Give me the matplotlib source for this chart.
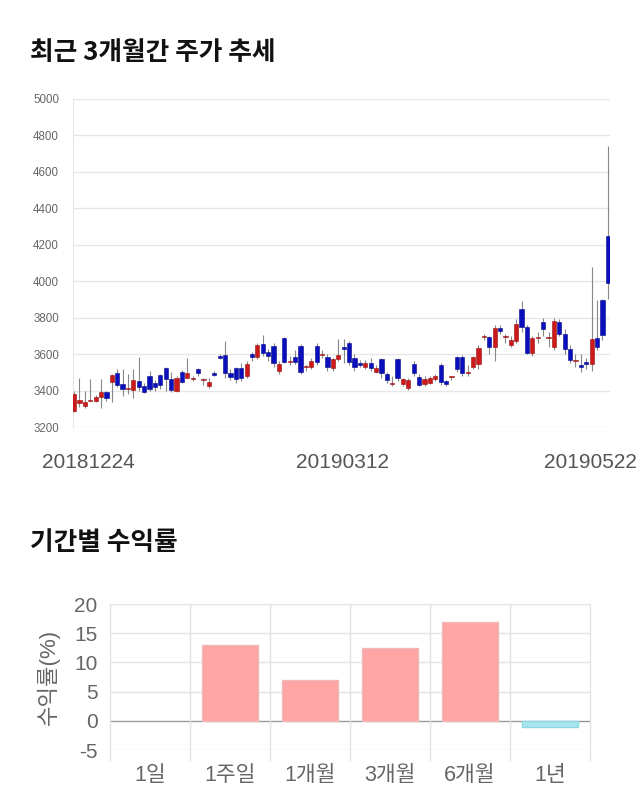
import matplotlib
matplotlib.use("Agg")
import matplotlib.pyplot as plt
import numpy as np

plt.rcParams['font.family'] = ['Liberation Sans', 'Noto Sans CJK KR', 'DejaVu Sans']

# ---------------- data ----------------
opens = [3290,3331,3315,3343,3343,3364,3392,3447,3497,3436,3408,3403,3452,3425,3480,3441,3485,3524,3463,3397,
         3502,3469,3463,3518,3458,3425,3497,3590,3595,3497,3524,3524,3480,3601,3584,3656,3612,3645,3508,3689,
         3557,3584,3645,3529,3529,3645,3595,3584,3524,3573,3639,3661,3579,3552,3529,3552,3502,3573,3491,3436,
         3573,3436,3414,3546,3474,3436,3441,3463,3541,3452,3474,3584,3584,3497,3529,3546,3694,3694,3639,3743,
         3694,3650,3672,3847,3749,3606,3689,3776,3689,3639,3776,3711,3628,3563,3541,3557,3546,3689,3897,4248]
closes = [3380,3348,3337,3343,3364,3392,3359,3485,3430,3408,3408,3458,3419,3392,3408,3419,3430,3463,3403,3469,
          3447,3497,3463,3497,3458,3447,3485,3579,3497,3474,3463,3469,3546,3584,3650,3606,3590,3552,3546,3557,
          3557,3557,3502,3529,3563,3557,3595,3529,3573,3595,3628,3557,3529,3541,3552,3524,3524,3497,3458,3436,
          3469,3463,3458,3497,3430,3463,3469,3480,3447,3436,3474,3518,3497,3497,3584,3634,3694,3639,3743,3727,
          3694,3678,3765,3749,3606,3689,3689,3738,3689,3782,3711,3628,3568,3563,3529,3546,3683,3639,3705,3990]
highs = [3400,3470,3400,3465,3375,3465,3400,3490,3520,3520,3490,3520,3585,3440,3505,3460,3490,3530,3500,3480,
         3515,3580,3480,3525,3470,3470,3510,3600,3672,3520,3530,3550,3560,3610,3660,3705,3630,3660,3560,3695,
         3590,3620,3655,3540,3580,3660,3620,3600,3580,3683,3683,3670,3600,3570,3565,3580,3540,3580,3500,3480,
         3580,3470,3470,3560,3490,3480,3480,3490,3550,3460,3480,3590,3595,3540,3590,3650,3710,3700,3760,3760,
         3710,3700,3790,3890,3760,3700,3720,3800,3720,3800,3790,3740,3650,3600,3600,3580,4080,3897,3905,4740]
lows = [3280,3310,3305,3340,3335,3305,3340,3337,3420,3370,3380,3360,3400,3385,3400,3400,3410,3400,3390,3390,
        3440,3470,3450,3480,3430,3415,3480,3575,3470,3460,3440,3450,3470,3560,3575,3590,3560,3530,3490,3550,
        3540,3545,3490,3510,3520,3540,3580,3510,3510,3560,3550,3540,3510,3530,3520,3510,3495,3470,3440,3425,
        3450,3425,3405,3480,3425,3425,3435,3455,3430,3425,3460,3500,3480,3480,3520,3520,3680,3600,3560,3710,
        3660,3640,3660,3720,3600,3590,3660,3700,3640,3620,3700,3600,3550,3530,3500,3520,3510,3620,3680,3900]
date_labels = ['20181224', '20190312', '20190522']
price_ticks = [3200, 3400, 3600, 3800, 4000, 4200, 4400, 4600, 4800, 5000]

periods = ['1일', '1주일', '1개월', '3개월', '6개월', '1년']
returns = [0.0, 13.0, 7.0, 12.5, 17.0, -1.0]

# ---------------- figure ----------------
fig = plt.figure(figsize=(6.4, 8.1), dpi=100)
KR = ['Noto Sans CJK KR', 'DejaVu Sans']
NUMKR = ['Liberation Sans', 'Noto Sans CJK KR', 'DejaVu Sans']

fig.text(30/640, 1-52/810, '최근 3개월간 주가 추세', family=KR, fontsize=18.5,
         fontweight='bold', color='#111111', va='center', ha='left')
fig.text(30/640, 1-543/810, '기간별 수익률', family=KR, fontsize=18.5,
         fontweight='bold', color='#111111', va='center', ha='left')

# ---- candlestick ----
ax = fig.add_axes([73/640, 1-427/810, 537/640, 328/810])
n = len(opens)
idx = np.arange(n)
o = np.array(opens); c = np.array(closes); h = np.array(highs); l = np.array(lows)
up = c >= o
body_bottom = np.minimum(o, c)
body_h = np.maximum(np.abs(c - o), 6)
colors = np.where(up, '#cc1a1a', '#0a0fbe')
edge = np.where(up, '#991111', '#06088a')
ax.vlines(idx, l, h, color='#888888', linewidth=0.8, zorder=2)
ax.bar(idx, body_h, bottom=body_bottom, width=0.78, color=colors, edgecolor=edge,
       linewidth=0.4, zorder=3)
ax.set_xlim(-0.2, n - 0.6)
ax.set_ylim(3200, 5000)
ax.set_yticks(price_ticks)
ax.set_yticklabels([str(t) for t in price_ticks], fontsize=8.3, color='#666666')
ax.yaxis.grid(True, color='#e6e6e6', linewidth=1)
ax.set_axisbelow(True)
ax.tick_params(axis='y', length=0, pad=10)
ax.tick_params(axis='x', length=0, pad=19)
ax.set_xticks([2.6, 49.8, 95.8])
ax.set_xticklabels(date_labels, fontsize=15, color='#555555')
for s in ['top', 'right', 'bottom']:
    ax.spines[s].set_visible(False)
ax.spines['left'].set_color('#e6e6e6')

# ---- returns bar chart ----
bx = fig.add_axes([110/640, 1-750/810, 480/640, 146/810])
xs = np.arange(len(periods))
bar_colors = ['#ffa5a5' if r >= 0 else '#a8e6ef' for r in returns]
bar_edges = ['none' if r == 0 else ('#f0b8b8' if r > 0 else '#8fd6e3') for r in returns]
bx.bar(xs, returns, width=0.7, color=bar_colors, edgecolor=bar_edges, linewidth=1, zorder=3)
bx.set_xlim(-0.5, len(periods) - 0.5)
bx.set_ylim(-5, 20)
yt = [-5, 0, 5, 10, 15, 20]
bx.set_yticks(yt)
bx.set_yticklabels([str(t) for t in yt], fontsize=15, color='#666666')
bx.tick_params(axis='y', length=0, pad=9)
bx.set_xticks(xs)
bx.set_xticklabels(periods, fontsize=15.5, color='#666666', family=NUMKR)
bx.tick_params(axis='x', length=0, pad=11)
for t in yt:
    bx.axhline(t, color='#999999' if t == 0 else '#e3e3e3', linewidth=1, zorder=1)
for b in np.arange(-0.5, len(periods), 1.0):
    bx.plot([b, b], [-5 - 25*10/146, 20], color='#e3e3e3', linewidth=1,
            clip_on=False, zorder=1)
for s in bx.spines.values():
    s.set_visible(False)
bx.set_ylabel('수익률(%)', family=NUMKR, fontsize=16, color='#666666', labelpad=10)

fig.savefig('out.png', dpi=100)
